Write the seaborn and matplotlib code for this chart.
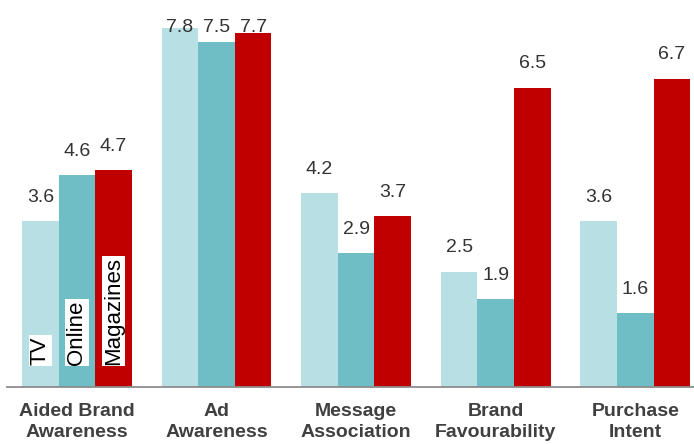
import matplotlib
matplotlib.use("Agg")
import matplotlib.pyplot as plt
import seaborn as sns
import pandas as pd

categories = ["Aided Brand\nAwareness", "Ad\nAwareness", "Message\nAssociation",
              "Brand\nFavourability", "Purchase\nIntent"]
series = ["TV", "Online", "Magazines"]
tv = [3.6, 7.8, 4.2, 2.5, 3.6]
online = [4.6, 7.5, 2.9, 1.9, 1.6]
magazines = [4.7, 7.7, 3.7, 6.5, 6.7]
colors = ["#B8DFE3", "#70BEC5", "#C00000"]

rows = []
for s, vals in zip(series, [tv, online, magazines]):
    for c, v in zip(categories, vals):
        rows.append({"category": c, "series": s, "value": v})
df = pd.DataFrame(rows)

sns.set_style("white")
plt.rcParams["font.family"] = ["Liberation Sans", "DejaVu Sans"]

fig = plt.figure(figsize=(6.94, 4.44), dpi=100)
left = 7.1 / 694
ax = fig.add_axes([left, 57.5 / 444, 1 - left, 1 - 57.5 / 444])

sns.barplot(data=df, x="category", y="value", hue="series", order=categories,
            hue_order=series, palette=colors, width=0.787, saturation=1,
            legend=False, ax=ax, errorbar=None, linewidth=0)

for side in ["left", "right", "top"]:
    ax.spines[side].set_visible(False)
ax.spines["bottom"].set_color("#8C8C8C")
ax.spines["bottom"].set_linewidth(1.3)
ax.set_yticks([])
ax.set_xlabel("")
ax.set_ylabel("")
ax.set_xticks(range(len(categories)))
ax.set_xticklabels(categories, fontsize=14, fontweight="bold", color="#404040",
                   linespacing=1.3)
ax.tick_params(axis="x", which="major", length=0, pad=12)
ax.set_xticks([i - 0.5 for i in range(len(categories) + 1)], minor=True)
ax.tick_params(axis="x", which="minor", length=6, width=1.2, color="#8C8C8C",
               direction="out")
ax.set_ylim(0, 386 / 45.9)
ax.set_xlim(-0.5, 4.42)

top_limit = 7.82
for p in ax.patches:
    h = p.get_height()
    if h <= 0:
        continue
    x = p.get_x() + p.get_width() / 2
    y = min(h + 0.52, top_limit)
    ax.text(x, y, f"{h:.1f}", ha="center", va="center", fontsize=14,
            color="#333333")

# series labels inside first group's bars
first = {}
for p in ax.patches:
    cx = p.get_x() + p.get_width() / 2
    if p.get_height() > 0 and cx < 0.5:
        first.setdefault(round(cx, 3), p)
for (cx, p), name in zip(sorted(first.items()), series):
    ax.text(cx, 0.47, name, rotation=90, ha="center", va="bottom", fontsize=16,
            color="black",
            bbox=dict(facecolor="white", edgecolor="none", pad=0.8))

fig.savefig("out.png", dpi=100)
